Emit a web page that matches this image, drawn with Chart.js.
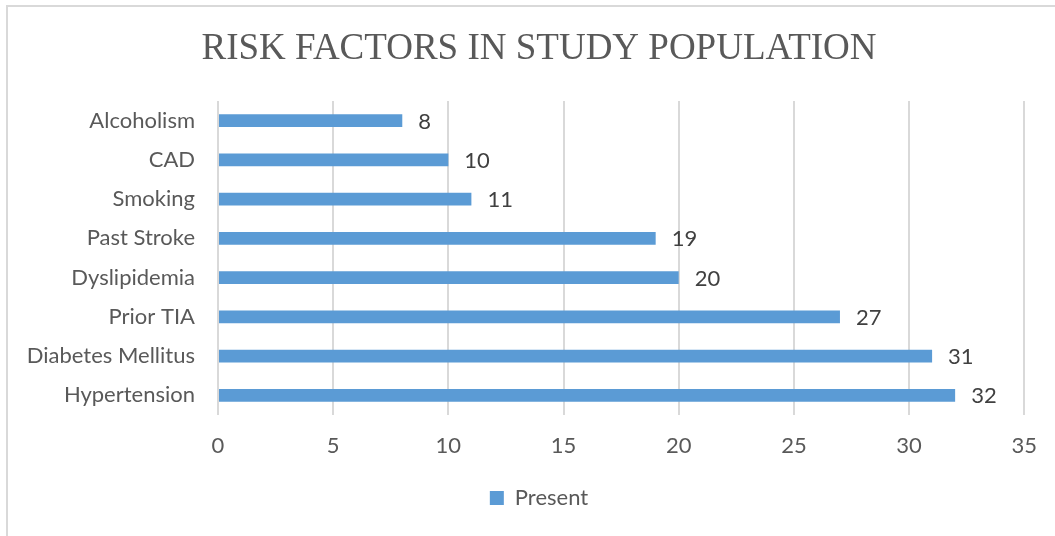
<!DOCTYPE html>
<html>
<head>
<meta charset="utf-8">
<title>Risk factors in study population</title>
<script src="https://cdn.jsdelivr.net/npm/chart.js@4.4.1/dist/chart.umd.min.js"></script>
<style>
    html, body { margin: 0; padding: 0; background: #ffffff; }
    #chartBox { width: 1055px; height: 536px; }
</style>
</head>
<body>
<div id="chartBox"><canvas id="riskChart" width="1055" height="536"></canvas></div>
<script>
// Risk factor counts (top to bottom as shown)
const riskFactors = ['Alcoholism', 'CAD', 'Smoking', 'Past Stroke', 'Dyslipidemia', 'Prior TIA', 'Diabetes Mellitus', 'Hypertension'];
const presentCounts = [8, 10, 11, 19, 20, 27, 31, 32];
const xTicks = [0, 5, 10, 15, 20, 25, 30, 35];

const BAR_BLUE = '#5b9bd5';
const TEXT_GREY = '#595959';
const GRID_GREY = '#d9d9d9';
const LABEL_FONT = { family: 'Lato, "Open Sans", sans-serif', size: 22 };
const PAD_LEFT = 52;
const PAD_BOTTOM = 17;

// Numbers printed just past the end of each bar
const valueLabels = {
    id: 'valueLabels',
    afterDatasetsDraw(chart) {
        const ctx = chart.ctx;
        const meta = chart.getDatasetMeta(0);
        ctx.save();
        ctx.font = `${LABEL_FONT.size}px ${LABEL_FONT.family}`;
        ctx.fillStyle = '#404040';
        ctx.textAlign = 'left';
        ctx.textBaseline = 'middle';
        meta.data.forEach((bar, i) => {
            ctx.fillText(String(presentCounts[i]), bar.x + 16, bar.y + 1);
        });
        ctx.restore();
    }
};

// Thin frame around the whole chart
const chartFrame = {
    id: 'chartFrame',
    beforeDraw(chart) {
        const ctx = chart.ctx;
        ctx.save();
        ctx.strokeStyle = GRID_GREY;
        ctx.lineWidth = 2;
        ctx.strokeRect(7, 6, chart.width + 20, chart.height + 20);
        ctx.restore();
    }
};

const ctx = document.getElementById('riskChart').getContext('2d');
window.riskChart = new Chart(ctx, {
    type: 'bar',
    data: {
        labels: riskFactors,
        datasets: [{
            label: 'Present',
            data: presentCounts,
            backgroundColor: BAR_BLUE,
            borderWidth: 0,
            categoryPercentage: 1,
            barPercentage: 0.33
        }]
    },
    options: {
        indexAxis: 'y',
        responsive: false,
        animation: false,
        layout: {
            padding: { left: PAD_LEFT, right: 29, top: 0, bottom: PAD_BOTTOM }
        },
        scales: {
            x: {
                min: 0,
                max: 35,
                afterBuildTicks: scale => {
                    scale.ticks = xTicks.map(v => ({ value: v }));
                },
                afterFit: scale => {
                    const legendHeight = scale.chart.legend ? scale.chart.legend.height : 0;
                    scale.height = 536 - PAD_BOTTOM - 415 - legendHeight;
                },
                grid: { color: GRID_GREY, lineWidth: 2, drawTicks: false },
                border: { display: false },
                ticks: { color: TEXT_GREY, font: LABEL_FONT, padding: 18 }
            },
            y: {
                afterFit: scale => {
                    scale.width = 218 - PAD_LEFT;
                    // long category names run into the left padding, so don't clip them
                    scale._computeLabelArea = () => undefined;
                },
                grid: { display: false, drawTicks: false },
                border: { display: false },
                ticks: { color: TEXT_GREY, font: LABEL_FONT, padding: 23 }
            }
        },
        plugins: {
            title: {
                display: true,
                text: 'RISK FACTORS IN STUDY POPULATION',
                color: TEXT_GREY,
                font: { family: '"Liberation Serif", "Times New Roman", serif', size: 37, weight: 'normal', lineHeight: 1 },
                padding: { top: 31, bottom: 33 }
            },
            legend: {
                position: 'bottom',
                labels: {
                    color: TEXT_GREY,
                    font: LABEL_FONT,
                    boxWidth: 14,
                    boxHeight: 14,
                    padding: 22
                }
            },
            tooltip: { enabled: false }
        }
    },
    plugins: [chartFrame, valueLabels]
});
</script>
</body>
</html>
